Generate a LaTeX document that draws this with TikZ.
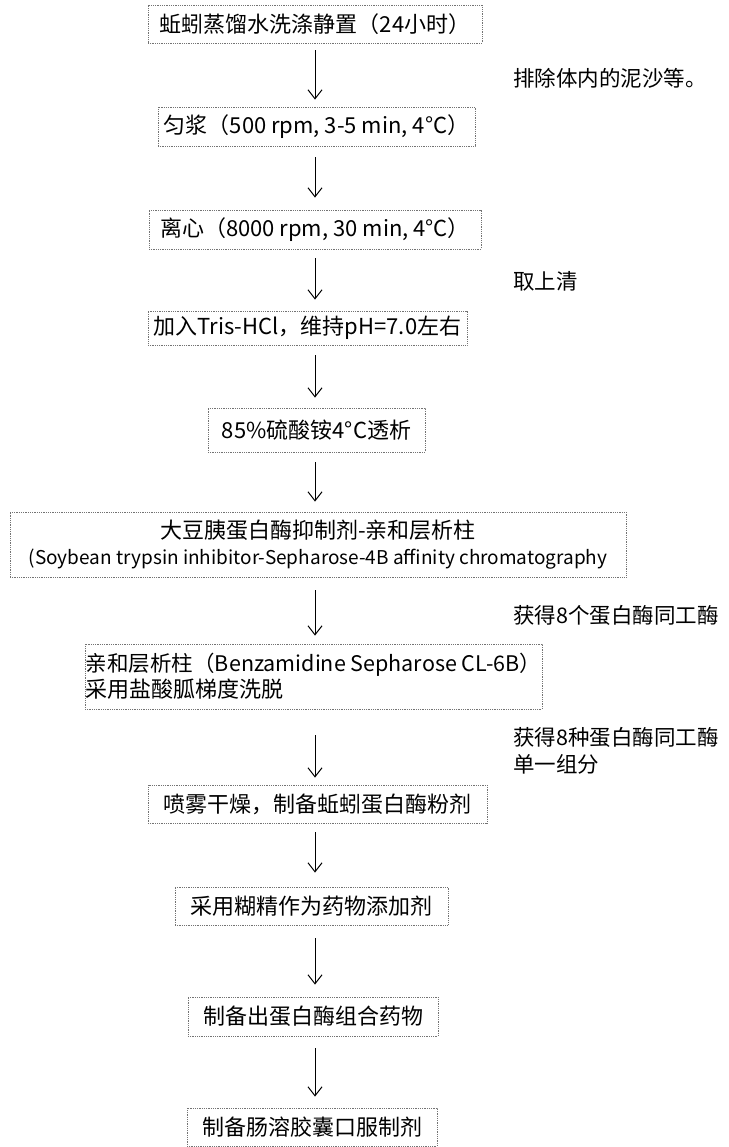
\documentclass[tikz,border=0pt]{standalone}
\usepackage{fontspec}
\setmainfont{Noto Sans CJK SC}
\usetikzlibrary{arrows.meta}

\begin{document}
\begin{tikzpicture}[x=1pt,y=-1pt,>={Straight Barb[length=9pt,width=14pt]}]
    \tikzset{stage/.style= {draw=black!55, densely dotted, line width=0.8pt, rectangle, inner sep=0pt, font={\fontsize{22}{26}\selectfont}, align=center} }
    \tikzset{note/.style= {anchor=west, align=left, inner sep=0pt, font={\fontsize{21.5}{27}\selectfont}} }
    \tikzset{flow/.style= {draw, ->, line width=1pt, shorten <=9pt, shorten >=9pt} }

    \useasboundingbox (0,0) rectangle (728,1147);
    \coordinate (ax) at (315,0);

    \node[stage, minimum width=334pt, minimum height=38pt] (wash) at (315,24) {蚯蚓蒸馏水洗涤静置（24小时）};
    \node[stage, minimum width=317pt, minimum height=39pt] (homog) at (316.5,126.5) {匀浆（500 rpm, 3-5 min, 4°C）};
    \node[stage, minimum width=332pt, minimum height=39pt] (spin) at (315,229.5) {离心（8000 rpm, 30 min,  4°C）};
    \node[stage, minimum width=319pt, minimum height=34pt] (tris) at (307.5,328) {加入Tris-HCl，维持pH=7.0左右};
    \node[stage, minimum width=217pt, minimum height=44pt] (dialy) at (316.5,430) {85\%硫酸铵4°C透析};
    \node[stage, minimum width=616pt, minimum height=65pt] (sbti) at (318,544.5) {大豆胰蛋白酶抑制剂-亲和层析柱\\{\fontsize{19}{26}\selectfont(Soybean trypsin inhibitor-Sepharose-4B affinity chromatography}};
    \node[stage, minimum width=457pt, minimum height=65pt, align=left] (benz) at (313.5,676.5) {{\fontsize{21.5}{26}\selectfont 亲和层析柱（Benzamidine Sepharose CL-6B）}\\采用盐酸胍梯度洗脱};
    \node[stage, minimum width=339pt, minimum height=38pt] (spray) at (317.5,804) {喷雾干燥，制备蚯蚓蛋白酶粉剂};
    \node[stage, minimum width=273pt, minimum height=38pt] (dextr) at (311.5,906) {采用糊精作为药物添加剂};
    \node[stage, minimum width=250pt, minimum height=39pt] (combo) at (313,1016.5) {制备出蛋白酶组合药物};
    \node[stage, minimum width=250pt, minimum height=38pt] (capsule) at (312,1127) {制备肠溶胶囊口服制剂};

    \node[note] (sand) at (513,78) {排除体内的泥沙等。};
    \node[note] (super) at (513,281) {取上清};
    \node[note] (iso8) at (513,615) {获得8个蛋白酶同工酶};
    \node[note] (iso8single) at (513,751) {获得8种蛋白酶同工酶\\单一组分};

    \path[flow, shorten <=7pt, shorten >=7pt] (wash.south -| ax) -- (homog.north -| ax);
    \path[flow, shorten <=11pt, shorten >=12pt] (homog.south -| ax) -- (spin.north -| ax);
    \path[flow, shorten >=11pt] (spin.south -| ax) -- (tris.north -| ax);
    \path[flow, shorten <=10pt, shorten >=10pt] (tris.south -| ax) -- (dialy.north -| ax);
    \path[flow, shorten <=10pt, shorten >=10pt] (dialy.south -| ax) -- (sbti.north -| ax);
    \path[flow, shorten <=13pt, shorten >=8pt] (sbti.south -| ax) -- (benz.north -| ax);
    \path[flow, shorten <=26pt, shorten >=7pt] (benz.south -| ax) -- (spray.north -| ax);
    \path[flow, shorten >=14pt] (spray.south -| ax) -- (dextr.north -| ax);
    \path[flow, shorten <=13pt, shorten >=12pt] (dextr.south -| ax) -- (combo.north -| ax);
    \path[flow, shorten <=12pt, shorten >=11pt] (combo.south -| ax) -- (capsule.north -| ax);
\end{tikzpicture}
\end{document}
